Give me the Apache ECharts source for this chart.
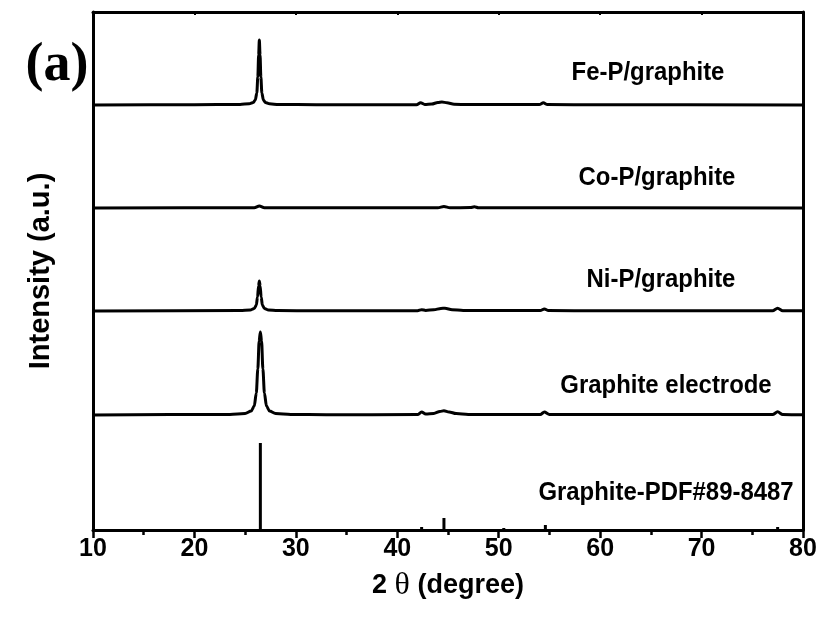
<!DOCTYPE html>
<html>
<head>
<meta charset="utf-8">
<script src="https://cdn.jsdelivr.net/npm/echarts@6/dist/echarts.min.js"></script>
<style>
  html, body { margin: 0; padding: 0; background: #fff; }
  #chart { width: 823px; height: 619px; }
</style>
</head>
<body>
<div id="chart"></div>
<script>
// XRD patterns, [2θ (deg), intensity (a.u.)] read per sample
const feP = [[10,0],[20,0.3],[24.5,0.6],[25.4,1.2],[25.8,2.5],[26.0,5],[26.15,12],[26.25,28],[26.33,50],[26.4,65],[26.47,50],[26.55,28],[26.65,12],[26.8,5],[27.0,2.5],[27.4,1.2],[28.3,0.5],[32,0.3],[41.9,0.3],[42.3,2.3],[42.7,0.6],[43.4,1],[44.0,2.5],[44.4,3],[44.9,2.2],[45.6,0.8],[47,0.4],[54.0,0.4],[54.4,2.2],[54.8,0.4],[60,0.2],[80,0]];
const coP = [[10,0],[25.9,0.2],[26.4,2],[26.9,0.2],[44,0.3],[44.6,1.5],[45.2,0.3],[47.2,0.4],[47.6,1.2],[48.0,0.3],[80,0]];
const niP = [[10,0],[24.5,0.4],[25.5,1],[25.9,2.5],[26.1,6],[26.22,14],[26.32,25],[26.4,30],[26.48,25],[26.58,14],[26.7,6],[26.9,2.5],[27.3,1],[28.2,0.4],[32,0.2],[42.0,0.3],[42.4,1.3],[42.8,0.6],[43.6,1.2],[44.3,2.6],[44.7,2.8],[45.4,1.3],[46.5,0.5],[54.1,0.4],[54.5,2],[54.9,0.4],[60,0.2],[77.0,0.3],[77.5,2.8],[78.0,0.3],[80,0.2]];
const graphiteElectrode = [[10,0],[23.5,0.6],[25.0,1.5],[25.6,4],[25.9,9],[26.1,22],[26.25,46],[26.38,74],[26.5,83],[26.62,74],[26.75,46],[26.9,22],[27.1,9],[27.4,4],[28.0,1.5],[29.5,0.6],[33,0.3],[42.0,0.4],[42.4,3],[42.8,1],[43.6,1.6],[44.2,3.6],[44.6,4.2],[45.1,3],[45.8,1.4],[47,0.6],[50,0.4],[54.1,0.5],[54.5,3],[55.0,0.6],[60,0.4],[77.0,0.4],[77.5,3.2],[78.0,0.4],[80,0.3]];

// Reference card PDF#89-8487 stick pattern
const pdfTheta = [26.5, 42.4, 44.6, 50.5, 54.6, 77.5];
const pdfIntensity = [87, 3, 12, 2, 5, 3];

// Vertical offsets used to stack the patterns
const sampleNames = ['Fe-P/graphite', 'Co-P/graphite', 'Ni-P/graphite', 'Graphite electrode'];
const sampleOffsets = [425, 322, 219, 115];
const pdfName = 'Graphite-PDF#89-8487';

const FONT = '"Liberation Sans", Arial, Helvetica, sans-serif';
const SERIF = '"Liberation Serif", "Times New Roman", Times, serif';

const samples = [feP, coP, niP, graphiteElectrode];
const lineSeries = samples.map((pts, i) => ({
  name: sampleNames[i],
  type: 'line',
  xAxisIndex: 0,
  yAxisIndex: 0,
  data: pts.map(p => [p[0], p[1] + sampleOffsets[i]]),
  showSymbol: false,
  smooth: 0.3,
  smoothMonotone: 'x',
  lineStyle: { color: '#000', width: 3 },
  silent: true,
  animation: false
}));

const stickSeries = {
  name: pdfName,
  type: 'bar',
  xAxisIndex: 0,
  yAxisIndex: 0,
  data: pdfTheta.map((t, i) => [t, pdfIntensity[i]]),
  barWidth: 3,
  itemStyle: { color: '#000' },
  silent: true,
  animation: false
};

// Sample captions in a slightly condensed bold face
const labelFont = 'bold 26px ' + FONT;
const labelPos = [[648, 73], [657, 178], [661, 280], [666, 386], [666, 493]];
const labelTexts = sampleNames.concat([pdfName]);

const chart = echarts.init(document.getElementById('chart'), null, { renderer: 'canvas' });
chart.setOption({
  animation: false,
  backgroundColor: '#fff',
  grid: { left: 93, right: 20, top: 12, bottom: 89, containLabel: false },
  xAxis: [
    {
      type: 'value', position: 'bottom', min: 10, max: 80, interval: 10,
      name: '{a|2 }{t|θ}{a| (degree)}',
      nameLocation: 'middle', nameGap: 40,
      nameTextStyle: {
        rich: {
          a: { fontFamily: FONT, fontWeight: 'bold', fontSize: 27, color: '#000' },
          t: { fontFamily: SERIF, fontWeight: 'normal', fontSize: 32, color: '#000' }
        }
      },
      axisLine: { show: true, onZero: false, lineStyle: { color: '#000', width: 3 } },
      axisTick: { show: true, inside: false, length: 8, lineStyle: { color: '#000', width: 2.5 } },
      minorTick: { show: true, splitNumber: 2, length: 5, lineStyle: { color: '#000', width: 2.5 } },
      axisLabel: { color: '#000', fontFamily: FONT, fontWeight: 'bold', fontSize: 25, margin: 7 },
      splitLine: { show: false }
    },
    {
      type: 'value', position: 'top', min: 10, max: 80, interval: 10,
      axisLine: { show: true, onZero: false, lineStyle: { color: '#000', width: 3 } },
      axisTick: { show: true, inside: true, length: 3, lineStyle: { color: '#000', width: 2 } },
      minorTick: { show: true, splitNumber: 2, length: 2, lineStyle: { color: '#000', width: 2 } },
      axisLabel: { show: false },
      splitLine: { show: false }
    }
  ],
  yAxis: [
    {
      type: 'value', position: 'left', min: 0, max: 518,
      name: 'Intensity (a.u.)',
      nameLocation: 'middle', nameGap: 38, nameRotate: 90,
      nameTextStyle: { color: '#000', fontFamily: FONT, fontWeight: 'bold', fontSize: 29 },
      axisLine: { show: true, onZero: false, lineStyle: { color: '#000', width: 3 } },
      axisTick: { show: false },
      axisLabel: { show: false },
      splitLine: { show: false }
    },
    {
      type: 'value', position: 'right', min: 0, max: 518,
      axisLine: { show: true, onZero: false, lineStyle: { color: '#000', width: 3 } },
      axisTick: { show: false },
      axisLabel: { show: false },
      splitLine: { show: false }
    }
  ],
  series: lineSeries.concat([stickSeries]),
  graphic: labelTexts.map((t, i) => ({
    type: 'text',
    x: labelPos[i][0],
    y: labelPos[i][1],
    scaleX: 0.92,
    silent: true,
    style: { text: t, font: labelFont, fill: '#000', align: 'center', verticalAlign: 'middle', textAlign: 'center', textVerticalAlign: 'middle' }
  })).concat([{
    type: 'text', x: 57, y: 66, silent: true,
    style: { text: '(a)', font: 'bold 54px ' + SERIF, fill: '#000', align: 'center', verticalAlign: 'middle', textAlign: 'center', textVerticalAlign: 'middle' }
  }])
});
</script>
</body>
</html>
